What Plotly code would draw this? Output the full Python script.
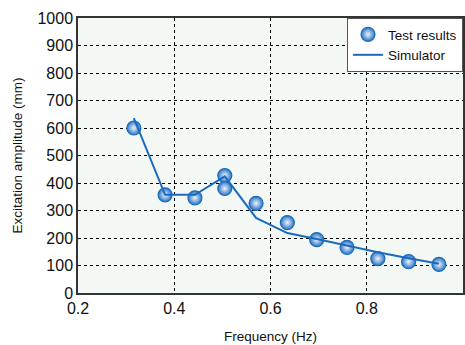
import plotly.graph_objects as go

test_freq = [0.316, 0.381, 0.443, 0.505, 0.505, 0.570, 0.635, 0.696, 0.759, 0.823, 0.887, 0.950]
test_amp = [600, 357, 346, 427, 380, 326, 256, 194, 166, 125, 114, 104]

sim_freq = [0.316, 0.381, 0.443, 0.505, 0.570, 0.635, 0.696, 0.759, 0.823, 0.887, 0.950]
sim_amp = [636, 357, 357, 424, 273, 218, 196, 171, 148, 126, 106]

x_ticks = [0.2, 0.4, 0.6, 0.8, 1.0]
x_tick_labels = ["0.2", "0.4", "0.6", "0.8", "1"]
y_ticks = list(range(0, 1001, 100))

BLUE = "#1a6bbd"
FONT = "Liberation Sans, Arial, sans-serif"

fig = go.Figure()
fig.add_trace(go.Scatter(
    x=test_freq, y=test_amp, mode="markers", name="Test results",
    marker=dict(size=14, color="#2a74c4",
                gradient=dict(type="radial", color="#eef4fc"),
                line=dict(color=BLUE, width=1.2)),
))
fig.add_trace(go.Scatter(
    x=sim_freq, y=sim_amp, mode="lines", name="Simulator",
    line=dict(color=BLUE, width=2),
))

fig.update_layout(
    width=465, height=345,
    margin=dict(l=78, r=2, t=18, b=52, autoexpand=False),
    paper_bgcolor="white",
    plot_bgcolor="#f3f8f5",
    font=dict(family=FONT, color="#111"),
    showlegend=True,
    legend=dict(x=1, y=1, xanchor="right", yanchor="top",
                bgcolor="white", bordercolor="#555", borderwidth=1,
                font=dict(size=13.5, family=FONT),
                traceorder="normal", tracegroupgap=0,
                yref="paper"),
)
fig.update_xaxes(
    range=[0.2, 1.0], tickvals=x_ticks, ticktext=x_tick_labels,
    showgrid=True, gridcolor="black", griddash="dot", gridwidth=1,
    showline=True, linecolor="#333", linewidth=1.5, mirror=True,
    ticks="", tickfont=dict(size=16), zeroline=False, automargin=False,
    title=dict(text="Frequency (Hz)", font=dict(size=13.5), standoff=16),
)
fig.update_yaxes(
    range=[0, 1000], tickvals=y_ticks,
    showgrid=True, gridcolor="black", griddash="dot", gridwidth=1,
    showline=True, linecolor="#333", linewidth=1.5, mirror=True,
    ticks="", tickfont=dict(size=16), zeroline=False, automargin=False,
    title=dict(text="Excitation amplitude (mm)", font=dict(size=13.5), standoff=12),
)

fig.write_html("out.html", config={"displayModeBar": False},
               post_script="document.body.style.margin='0';")
